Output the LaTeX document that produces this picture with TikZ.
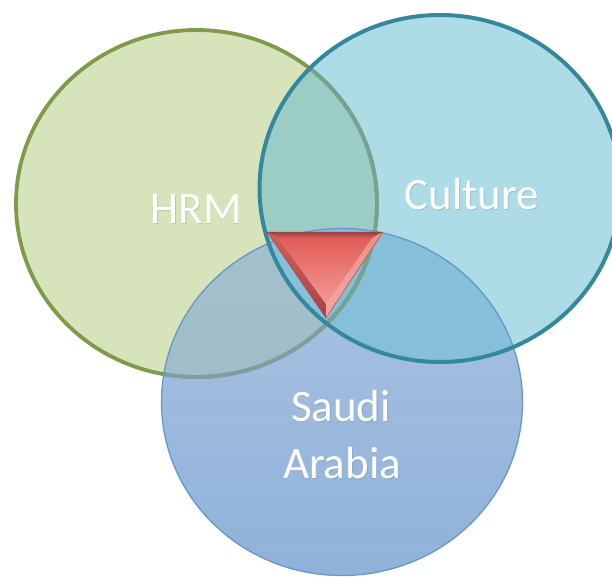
\documentclass[tikz,border=0pt]{standalone}
\usepackage{fontspec}
\setmainfont{Carlito}
\definecolor{gfill}{HTML}{D7E3BB}
\definecolor{gline}{HTML}{7E9B4A}
\definecolor{glineS}{HTML}{7E9FA2}
\definecolor{glineC}{HTML}{74A294}
\definecolor{cfill}{HTML}{ADDCE7}
\definecolor{cline}{HTML}{35879D}
\definecolor{stopc}{HTML}{AAC4E3}
\definecolor{sbotc}{HTML}{91B1D9}
\definecolor{sline}{HTML}{6497CC}
\definecolor{gcfill}{HTML}{9CCCC6}
\definecolor{gstop}{HTML}{A4C0CC}
\definecolor{gsbot}{HTML}{9DB9C8}
\definecolor{csfill}{HTML}{85BFD9}
\definecolor{tridark}{HTML}{9A3F3E}
\definecolor{trimid}{HTML}{D65B57}
\definecolor{trilight}{HTML}{F5A7A3}
\definecolor{tritop}{HTML}{E25D59}
\definecolor{tribot}{HTML}{F39A96}
\definecolor{shG}{HTML}{BCC9A4}
\definecolor{shC}{HTML}{95C2CD}
\definecolor{shS}{HTML}{8CA8C9}
\newcommand\shdtext[2]{\makebox[0pt][l]{\hspace{0.7pt}\raisebox{-1.4pt}{\textcolor{#1}{#2}}}#2}
\tikzset{
  lbl/.style={text=white, anchor=base, inner sep=0pt, font=\fontsize{45}{54}\selectfont},
}
\begin{document}
\begin{tikzpicture}[x=1pt,y=-1pt]
\useasboundingbox (0,0) rectangle (612,577);
\def\Gp{(196.5,203.5) ellipse [x radius=180.5pt, y radius=173.5pt]}
\def\Cp{(440,188.5) ellipse [x radius=180.5pt, y radius=173.5pt]}
\def\Sp{(342,402) ellipse [x radius=180.5pt, y radius=173.5pt]}
% fills
\fill[gfill] \Gp;
\fill[cfill] \Cp;
\shade[top color=stopc, bottom color=sbotc] \Sp;
\begin{scope}\clip \Gp; \fill[gcfill] \Cp; \end{scope}
\begin{scope}\clip \Gp; \shade[top color=gstop, bottom color=gsbot] \Sp; \end{scope}
\begin{scope}\clip \Cp; \fill[csfill] \Sp; \end{scope}
% strokes
\draw[gline, line width=3.8pt] \Gp;
\begin{scope}\clip \Sp; \draw[glineS, line width=3.8pt] \Gp; \end{scope}
\begin{scope}\clip \Cp; \draw[glineC, line width=3.8pt] \Gp; \end{scope}
\draw[sline, line width=1.3pt] \Sp;
\draw[cline, line width=4pt] \Cp;
% bevelled triangle
\coordinate (A) at (267,232);
\coordinate (B) at (383,232);
\coordinate (P) at (326,318);
\coordinate (Ai) at (278,238);
\coordinate (Bi) at (372,238);
\coordinate (Pi) at (326,304);
\shade[top color=tridark, bottom color=trimid] (A) -- (B) -- (Bi) -- (Ai) -- cycle;
\shade[top color=trimid, bottom color=tridark!80!trimid] (A) -- (Ai) -- (Pi) -- (P) -- cycle;
\shade[top color=trilight!70!trimid, bottom color=trilight] (B) -- (P) -- (Pi) -- (Bi) -- cycle;
\shade[top color=tritop, bottom color=tribot] (Ai) -- (Bi) -- (Pi) -- cycle;
\draw[tridark!70!trimid, line width=0.5pt, line join=round] (A) -- (B) -- (P) -- cycle;
% labels
\node[lbl] (hrm) at (196,223) {\shdtext{shG}{HRM}};
\node[lbl] (culture) at (472,209) {\shdtext{shC}{Culture}};
\node[lbl] (saudi) at (341,421) {\shdtext{shS}{Saudi}};
\node[lbl] (arabia) at (342,478) {\shdtext{shS}{Arabia}};
\end{tikzpicture}
\end{document}
